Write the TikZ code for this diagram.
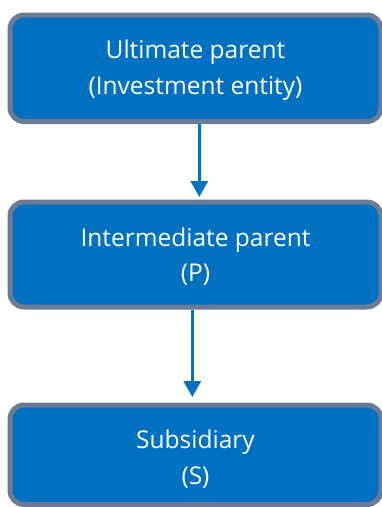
\documentclass[tikz,border=0pt]{standalone}
\usepackage{fontspec}
\setmainfont{Open Sans}
\usetikzlibrary{arrows.meta}
\definecolor{boxblue}{RGB}{0,112,192}
\definecolor{boxgray}{RGB}{108,122,148}
\begin{document}
\begin{tikzpicture}[x=1pt,y=1pt,
  entity/.style={rectangle, rounded corners=14pt, draw=boxgray, line width=5pt,
    fill=boxblue, text=white, align=center, minimum width=371pt,
    font=\fontsize{24.5}{35.5}\selectfont},
  arr/.style={draw=boxblue, line width=3pt,
    -{Triangle[width=17pt,length=16pt]}}]
\useasboundingbox (0,0) rectangle (382,-507);
\node[entity, minimum height=106.5pt] (up) at (195.5,-68.25) {\rule{0pt}{22.6pt}Ultimate parent\\(Investment entity)};
\node[entity, minimum height=105pt] (ip) at (195.5,-254.5) {\rule{0pt}{22.6pt}Intermediate parent\\(P)};
\node[entity, minimum height=99.5pt] (sub) at (195.5,-454.75) {\rule{0pt}{27.6pt}Subsidiary\\(S)};
\draw[arr, shorten >=2.5pt] ([xshift=3.8pt]up.south) -- ([xshift=3.8pt]ip.north);
\draw[arr, shorten >=5.5pt] ([xshift=-3.2pt]ip.south) -- ([xshift=-3.2pt]sub.north);
\end{tikzpicture}
\end{document}
